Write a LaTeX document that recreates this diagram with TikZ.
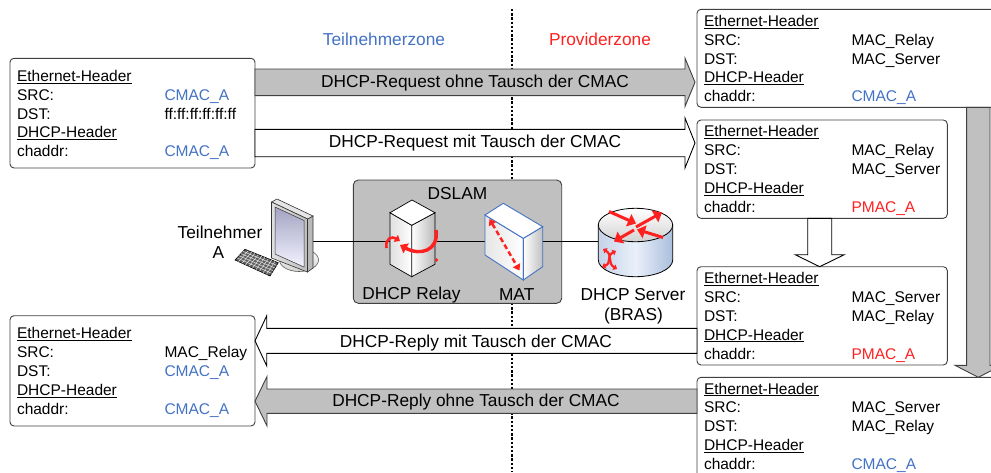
\documentclass[tikz,border=0pt]{standalone}
\usepackage{fontspec}
\setmainfont{Liberation Sans}
\usetikzlibrary{calc,arrows.meta}

\definecolor{zblue}{RGB}{68,114,196}
\definecolor{zred}{RGB}{255,32,32}
\definecolor{fillgray}{RGB}{192,192,192}
\definecolor{edgegray}{RGB}{64,64,64}
\definecolor{cylL}{RGB}{196,210,232}
\definecolor{cylM}{RGB}{234,240,250}
\definecolor{cylR}{RGB}{170,190,220}

\tikzset{
  pktbox/.style={draw=edgegray, line width=0.9pt, rounded corners=4pt, fill=white,
    inner sep=0pt, outer sep=0pt},
  fld/.style={font=\fontsize{15.5}{18}\selectfont, inner sep=0pt, outer sep=0pt, anchor=base west},
  lbl/.style={font=\fontsize{17.3}{19.3}\selectfont, inner sep=0pt, outer sep=0pt, anchor=base},
  grayarrow/.style={draw=edgegray, fill=fillgray, line width=0.9pt},
  whitearrow/.style={draw=black, fill=white, line width=0.9pt},
  zoneline/.style={line width=2pt, dash pattern=on 2.4pt off 1.8pt},
  dslambox/.style={draw=edgegray, fill=fillgray, line width=0.9pt, rounded corners=5pt,
    inner sep=0pt, outer sep=0pt},
  link/.style={line width=0.9pt, draw=black},
  redarr/.style={draw=zred, line width=3.4pt, -{Triangle[length=7pt,width=11pt]}},
  routerarr/.style={draw=zred, line width=3pt, -{Triangle[length=8pt,width=13pt]}},
  redthin/.style={draw=zred, line width=2.2pt},
}

% header box: name, left, top, width, height, first baseline, SRC, DST, chaddr
\newcommand\pkt[9]{%
  \node[pktbox, minimum width=#4pt, minimum height=#5pt, anchor=north west] (#1) at (#2,#3) {};
  \node[fld] (#1-eth)  at ($(#1.north west)+(7,#6)$) {\underline{Ethernet-Header}};
  \node[fld] (#1-srck) at ($(#1.north west)+(7,#6+18.9)$) {SRC:};
  \node[fld] (#1-srcv) at ($(#1.north west)+(154.5,#6+18.9)$) {#7};
  \node[fld] (#1-dstk) at ($(#1.north west)+(7,#6+37.8)$) {DST:};
  \node[fld] (#1-dstv) at ($(#1.north west)+(154.5,#6+37.8)$) {#8};
  \node[fld] (#1-dhcp) at ($(#1.north west)+(7,#6+56.7)$) {\underline{DHCP-Header}};
  \node[fld] (#1-chk)  at ($(#1.north west)+(7,#6+75.6)$) {chaddr:};
  \node[fld] (#1-chv)  at ($(#1.north west)+(154.5,#6+75.6)$) {#9};
}

% horizontal block arrow: style, tail, tip, shaft half width, head half width, signed head length
\newcommand\harrow[6]{%
  \draw[#1] ($(#2)+(0,-#4)$) -- ($(#3)+(#6,-#4)$) -- ($(#3)+(#6,-#5)$) -- (#3)
    -- ($(#3)+(#6,#5)$) -- ($(#3)+(#6,#4)$) -- ($(#2)+(0,#4)$) -- cycle;}
% vertical block arrow: style, tail, tip, shaft half width, head half width, signed head length
\newcommand\varrow[6]{%
  \draw[#1] ($(#2)+(-#4,0)$) -- ($(#3)+(-#4,#6)$) -- ($(#3)+(-#5,#6)$) -- (#3)
    -- ($(#3)+(#5,#6)$) -- ($(#3)+(#4,#6)$) -- ($(#2)+(#4,0)$) -- cycle;}

\newcommand{\cmac}{\textcolor{zblue}{CMAC\_A}}
\newcommand{\pmac}{\textcolor{zred}{PMAC\_A}}

\begin{document}
\begin{tikzpicture}[x=1pt,y=-1pt]
\useasboundingbox (0,0) rectangle (991,472);
\clip (0,0) rectangle (991,472);

% border between subscriber and provider side
\coordinate (zt) at (512.3,9);
\coordinate (zb) at (512.3,472);
\draw[zoneline] (zt) -- (zb);
\node[lbl, text=zblue] (zone1) at (384,45) {Teilnehmerzone};
\node[lbl, text=zred] (zone2) at (600,45) {Providerzone};

% DSLAM
\node[dslambox, minimum width=208.4pt, minimum height=123.3pt, anchor=north west] (dslam) at (353.3,180) {};
\node[lbl] (dslamlbl) at (457.5,199) {DSLAM};

% line from the subscriber PC through the DSLAM to the server
\coordinate (pcport) at (312,241.7);
\coordinate (srvport) at (599,241.7);
\draw[link] (pcport) -- (srvport);

% subscriber PC
\shadedraw[top color=white, bottom color=gray!35, draw=gray!70!black, line width=0.6pt]
  (299,260) ellipse [x radius=19.5, y radius=11.5];
\filldraw[fill=gray!55, draw=gray!40!black, line width=0.6pt]
  (307.5,219) -- (313,216) -- (313,268) -- (307.5,272) -- cycle;
\filldraw[fill=gray!20, draw=gray!40!black, line width=0.6pt]
  (271.5,202) -- (277,199) -- (313,216) -- (307.5,219) -- cycle;
\shadedraw[left color=gray!25, right color=gray!50, draw=gray!40!black, line width=0.6pt]
  (271.5,202) -- (307.5,219) -- (307.5,272) -- (271.5,258) -- cycle;
\shadedraw[top color=blue!20!gray!60, bottom color=blue!5!white, draw=gray!40!black, line width=0.5pt]
  (275,207) -- (304,220.5) -- (304,267) -- (275,254) -- cycle;
\filldraw[fill=gray!75!black, draw=black, line width=0.6pt]
  (245,249.3) -- (278.3,262.7) -- (270,276) -- (235,260) -- cycle;
\foreach \t in {0.2,0.4,0.6,0.8}
  \draw[white!80!gray, line width=0.5pt] ($(245,249.3)!\t!(235,260)$) -- ($(278.3,262.7)!\t!(270,276)$);
\foreach \t in {0.1,0.2,...,0.91}
  \draw[white!80!gray, line width=0.5pt] ($(245,249.3)!\t!(278.3,262.7)$) -- ($(235,260)!\t!(270,276)$);
\node[lbl] (subA1) at (220,238.5) {Teilnehmer};
\node[lbl] (subA2) at (218.3,258.3) {A};

% DHCP relay
\shadedraw[left color=gray!25, right color=white, draw=black, line width=0.7pt]
  (390,212.7) -- (411.7,225.3) -- (411.7,276.7) -- (390,264.3) -- cycle;
\shadedraw[left color=white, right color=gray!55, draw=black, line width=0.7pt]
  (411.7,225.3) -- (435,212.7) -- (435,264.3) -- (411.7,276.7) -- cycle;
\filldraw[fill=white, draw=black, line width=0.7pt]
  (390,212.7) -- (412,200) -- (435,212.7) -- (411.7,225.3) -- cycle;
\draw[redarr] (436,230) .. controls (439,251) and (420,256) .. (400,245);
\draw[redthin, line width=2.6pt, -{Triangle[length=5pt,width=8pt]}] (386.5,248) .. controls (385,238) and (392,236) .. (400,241);
\fill[zred] (436.5,260) circle [radius=1.8];
\node[lbl] (relaylbl) at (411.5,299) {DHCP Relay};

% MAT
\shadedraw[left color=gray!20, right color=white, draw=zblue, line width=0.9pt]
  (485,215) -- (523.3,238.3) -- (523.3,280) -- (485,255) -- cycle;
\shadedraw[left color=white, right color=gray!50, draw=zblue, line width=0.9pt]
  (523.3,238.3) -- (542.7,226.7) -- (542.7,266.7) -- (523.3,280) -- cycle;
\filldraw[fill=white, draw=zblue, line width=0.9pt]
  (485,215) -- (503.3,203.3) -- (542.7,226.7) -- (523.3,238.3) -- cycle;
\draw[draw=zred, line width=2.4pt, dash pattern=on 5pt off 3pt,
  {Triangle[length=6pt,width=8pt]}-{Triangle[length=6pt,width=8pt]}] (489.5,219) -- (519.5,270.5);
\node[lbl] (matlbl) at (516.7,300) {MAT};

% DHCP server (router)
\shadedraw[left color=cylL, right color=cylR, middle color=cylM, draw=black, line width=0.8pt]
  (598.3,225) -- (598.3,260) arc[start angle=180, end angle=0, x radius=37.2, y radius=16.7]
  -- (672.7,225) -- cycle;
\shadedraw[top color=white, bottom color=gray!35, draw=black, line width=0.8pt]
  (635.5,225) ellipse [x radius=37.2, y radius=16.7];
\draw[routerarr] (609,211.5) -- (636,223.5);
\draw[routerarr] (636,227) -- (662,212.5);
\draw[routerarr] (663,237.5) -- (637,229.5);
\draw[routerarr] (634,230) -- (614,241.5);
\draw[redthin, {Triangle[length=3.5pt,width=6pt]}-{Triangle[length=3.5pt,width=6pt]}]
  (603,249) .. controls (613,255) and (607,263) .. (617,269);
\draw[redthin, {Triangle[length=3.5pt,width=6pt]}-{Triangle[length=3.5pt,width=6pt]}]
  (616,251) .. controls (606,256) and (612,263) .. (602,267);
\node[lbl] (srvlbl1) at (633,300) {DHCP Server};
\node[lbl] (srvlbl2) at (633.5,320) {(BRAS)};

% header boxes
\pkt{lb1}{10}{58.3}{245}{109.7}{22.9}{\cmac}{ff:ff:ff:ff:ff:ff}{\cmac}
\pkt{lb2}{10}{315.7}{245}{110.3}{22.9}{MAC\_Relay}{\cmac}{\cmac}
\pkt{rb1}{697}{9.3}{320}{98}{16.9}{MAC\_Relay}{MAC\_Server}{\cmac}
\pkt{rb2}{697}{120}{250.3}{98.3}{16.5}{MAC\_Relay}{MAC\_Server}{\pmac}
\pkt{rb3}{697}{266.7}{250.3}{98.3}{16.7}{MAC\_Server}{MAC\_Relay}{\pmac}
\pkt{rb4}{697}{377.3}{320}{120}{16.7}{MAC\_Server}{MAC\_Relay}{\cmac}

% levels of the horizontal arrows
\coordinate (ya1) at (0,82.3);
\coordinate (ya2) at (0,143);
\coordinate (ya3) at (0,340.8);
\coordinate (ya4) at (0,401.2);
\coordinate (xv1) at (978.3,0);
\coordinate (xv2) at (819.7,0);

\coordinate (a1t) at (lb1.east |- ya1);
\coordinate (a1h) at ($(rb1.west |- ya1)+(-2,0)$);
\coordinate (a2t) at (lb1.east |- ya2);
\coordinate (a2h) at ($(rb2.west |- ya2)+(-2,0)$);
\coordinate (a3t) at (rb3.west |- ya3);
\coordinate (a3h) at (lb2.east |- ya3);
\coordinate (a4t) at (rb4.west |- ya4);
\coordinate (a4h) at (lb2.east |- ya4);
\coordinate (v1t) at (rb1.south -| xv1);
\coordinate (v1h) at (rb4.north -| xv1);
\coordinate (v2t) at (rb2.south -| xv2);
\coordinate (v2h) at (rb3.north -| xv2);

\harrow{grayarrow}{a1t}{a1h}{13.3}{24.2}{-10}
\harrow{whitearrow}{a2t}{a2h}{13.7}{25}{-10}
\harrow{whitearrow}{a3t}{a3h}{12.5}{25}{11.7}
\harrow{grayarrow}{a4t}{a4h}{12.2}{24.7}{12}
\varrow{grayarrow}{v1t}{v1h}{11.7}{23.3}{-12}
\varrow{whitearrow}{v2t}{v2h}{12}{24.5}{-12}

\node[lbl] (l1) at ($(a1t)!0.5!(a1h)+(0,4.7)$) {DHCP-Request ohne Tausch der CMAC};
\node[lbl] (l2) at ($(a2t)!0.5!(a2h)+(0,4.7)$) {DHCP-Request mit Tausch der CMAC};
\node[lbl] (l3) at ($(a3t)!0.5!(a3h)+(0,6.9)$) {DHCP-Reply mit Tausch der CMAC};
\node[lbl] (l4) at ($(a4t)!0.5!(a4h)+(0,5.5)$) {DHCP-Reply ohne Tausch der CMAC};
\end{tikzpicture}
\end{document}
